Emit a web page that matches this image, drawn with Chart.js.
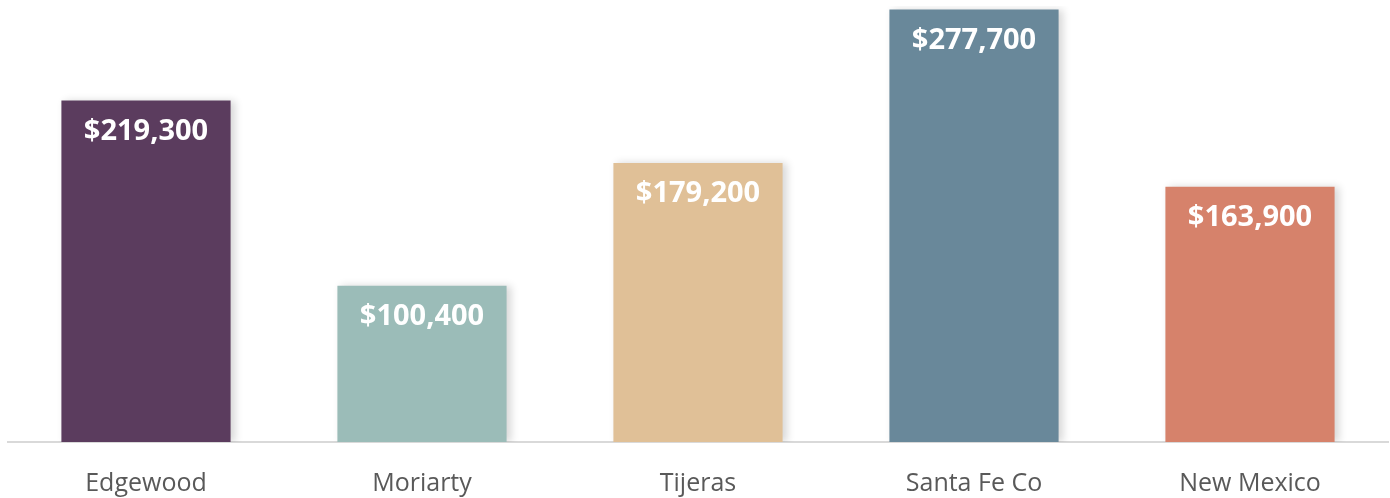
<!DOCTYPE html>
<html>
<head>
<meta charset="utf-8">
<script src="https://cdn.jsdelivr.net/npm/chart.js@4/dist/chart.umd.min.js"></script>
<style>
  html, body { margin: 0; padding: 0; background: #fff; }
  #wrap { width: 1390px; height: 498px; }
</style>
</head>
<body>
<div id="wrap"><canvas id="chart"></canvas></div>
<script>
/* ── data ── */
const places = ['Edgewood', 'Moriarty', 'Tijeras', 'Santa Fe Co', 'New Mexico'];
const medianValues = [219300, 100400, 179200, 277700, 163900];
const barColors = ['#5b3c5e', '#9bbcb8', '#e0c097', '#69889a', '#d6826b'];

const fmt = (v) => '$' + v.toLocaleString('en-US');

/* ── shadow behind bars ── */
const barShadow = {
  id: 'barShadow',
  beforeDatasetDraw(chart) {
    const ctx = chart.ctx;
    ctx.save();
    ctx.shadowColor = 'rgba(0,0,0,0.16)';
    ctx.shadowBlur = 8;
    ctx.shadowOffsetX = 4;
    ctx.shadowOffsetY = 0;
  },
  afterDatasetDraw(chart) {
    chart.ctx.restore();
  },
};

/* ── value labels inside the bar top ── */
const valueLabels = {
  id: 'valueLabels',
  afterDatasetsDraw(chart) {
    const ctx = chart.ctx;
    const meta = chart.getDatasetMeta(0);
    ctx.save();
    ctx.fillStyle = '#ffffff';
    ctx.font = 'bold 29px "Open Sans", sans-serif';
    ctx.textAlign = 'center';
    ctx.textBaseline = 'middle';
    meta.data.forEach((bar, i) => {
      ctx.fillText(fmt(medianValues[i]), bar.x, bar.y + 31);
    });
    ctx.restore();
  },
};

new Chart(document.getElementById('chart'), {
  type: 'bar',
  data: {
    labels: places,
    datasets: [{
      data: medianValues,
      backgroundColor: barColors,
      borderWidth: 0,
      barPercentage: 0.613,
      categoryPercentage: 1,
    }],
  },
  options: {
    responsive: true,
    maintainAspectRatio: false,
    animation: false,
    layout: { padding: { left: 8, right: 2, top: 6, bottom: -28 } },
    plugins: { legend: { display: false }, tooltip: { enabled: false } },
    scales: {
      x: {
        grid: { display: false, drawTicks: false },
        border: { display: true, color: '#d9d9d9', width: 2 },
        ticks: {
          color: '#595959',
          padding: 27,
          font: { family: "'Open Sans'", size: 25 },
        },
      },
      y: {
        display: false,
        min: 0,
        max: 280000,
      },
    },
  },
  plugins: [barShadow, valueLabels],
});
</script>
</body>
</html>
